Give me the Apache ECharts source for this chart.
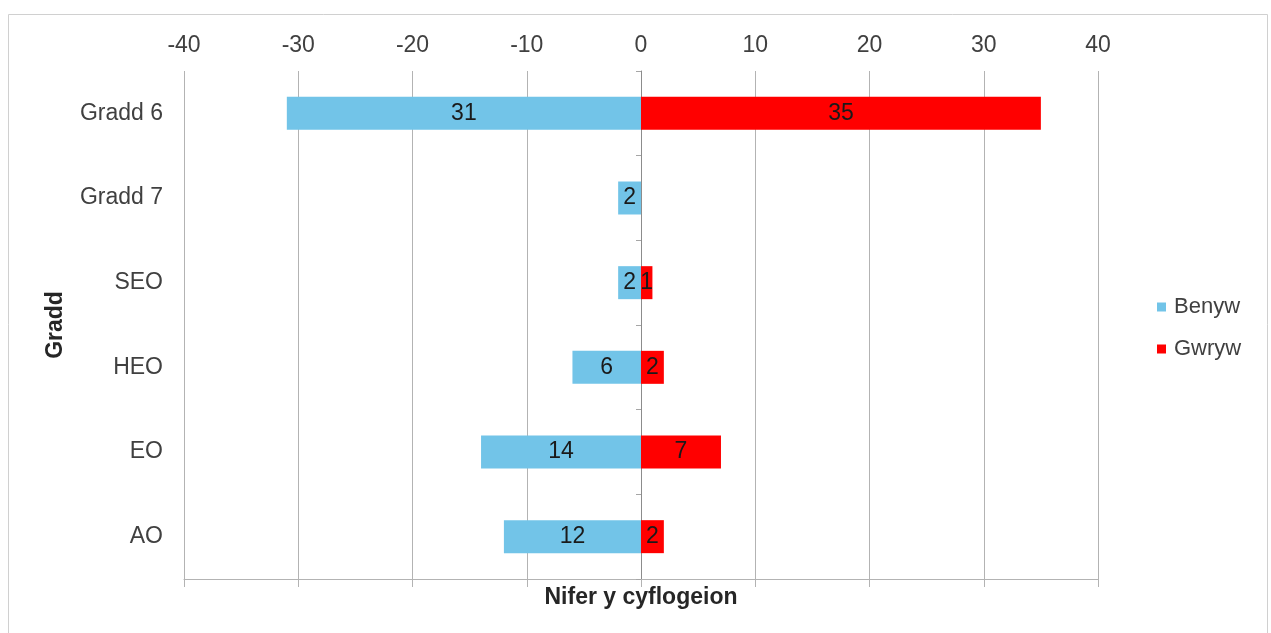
<!DOCTYPE html>
<html>
<head>
<meta charset="utf-8">
<style>
  html, body { margin: 0; padding: 0; background: #fff; }
  #chart { width: 1271px; height: 633px; }
</style>
<script src="https://cdn.jsdelivr.net/npm/echarts@6/dist/echarts.min.js"></script>
</head>
<body>
<div id="chart"></div>
<script>
// Staff counts by grade, women drawn to the left of zero, men to the right
const grades = ['Gradd 6', 'Gradd 7', 'SEO', 'HEO', 'EO', 'AO'];
const benyw = [31, 2, 2, 6, 14, 12];
const gwryw = [35, 0, 1, 2, 7, 2];
const axisMin = -40;
const axisMax = 40;
const axisStep = 10;

const FONT = '"Liberation Sans", Arial, sans-serif';
const FS = 23;
const TEXT = '#404040';
const GRIDLINE = '#b3b3b3';

const chart = echarts.init(document.getElementById('chart'), null, { renderer: 'canvas' });

const labelOpt = {
  show: true,
  position: 'inside',
  fontFamily: FONT,
  fontSize: FS,
  color: '#1a1a1a',
  formatter: p => (p.value === 0 ? '' : String(Math.abs(p.value)))
};

chart.setOption({
  animation: false,
  backgroundColor: '#fff',
  textStyle: { fontFamily: FONT },
  graphic: [{
    type: 'rect',
    shape: { x: 8.5, y: 14.5, width: 1259, height: 640 },
    style: { fill: 'none', stroke: '#d0d0d0', lineWidth: 1 },
    silent: true,
    z: -10
  }],
  grid: { left: 184, right: 173, top: 71, bottom: 54 },
  legend: {
    orient: 'vertical',
    left: 1152,
    top: 291,
    itemWidth: 9,
    itemHeight: 9,
    itemGap: 20,
    icon: 'rect',
    textStyle: { fontFamily: FONT, fontSize: 22, color: TEXT, padding: [0, 0, 0, 3] },
    data: ['Benyw', 'Gwryw']
  },
  xAxis: [{
    type: 'value',
    position: 'top',
    min: axisMin,
    max: axisMax,
    interval: axisStep,
    axisLine: { show: false },
    axisTick: { show: false },
    axisLabel: { fontFamily: FONT, fontSize: FS, color: TEXT, margin: 14 },
    splitLine: { show: true, lineStyle: { color: GRIDLINE, width: 1 } }
  }, {
    type: 'value',
    position: 'bottom',
    min: axisMin,
    max: axisMax,
    interval: axisStep,
    axisLine: { show: true, onZero: false, lineStyle: { color: GRIDLINE, width: 1 } },
    axisTick: { show: true, length: 8, lineStyle: { color: GRIDLINE } },
    axisLabel: { show: false },
    splitLine: { show: false },
    name: 'Nifer y cyflogeion',
    nameLocation: 'middle',
    nameGap: 7,
    nameTextStyle: { fontFamily: FONT, fontSize: FS, fontWeight: 'bold', color: '#262626' }
  }],
  yAxis: [{
    type: 'category',
    data: grades,
    inverse: true,
    position: 'left',
    axisLine: { show: false, onZero: false },
    axisTick: { show: false },
    axisLabel: { fontFamily: FONT, fontSize: FS, color: TEXT, margin: 21 },
    name: 'Gradd',
    nameLocation: 'middle',
    nameRotate: 90,
    nameGap: 117,
    nameTextStyle: { fontFamily: FONT, fontSize: FS, fontWeight: 'bold', color: '#262626' }
  }, {
    // zero line with category ticks
    type: 'category',
    data: grades,
    inverse: true,
    position: 'left',
    axisLine: { show: true, onZero: true, onZeroAxisIndex: 0, lineStyle: { color: '#8c8c8c', width: 1 } },
    axisTick: { show: true, length: 5, lineStyle: { color: '#a6a6a6' } },
    axisLabel: { show: false },
    splitLine: { show: false }
  }],
  series: [{
    name: 'Benyw',
    type: 'bar',
    xAxisIndex: 0,
    yAxisIndex: 0,
    data: benyw.map(v => -v),
    barWidth: 33,
    barGap: '-100%',
    itemStyle: { color: '#72C4E8' },
    label: labelOpt,
    z: 2
  }, {
    name: 'Gwryw',
    type: 'bar',
    xAxisIndex: 0,
    yAxisIndex: 0,
    data: gwryw,
    barWidth: 33,
    barGap: '-100%',
    itemStyle: { color: '#FF0000' },
    label: labelOpt,
    z: 2
  }]
});
</script>
</body>
</html>
